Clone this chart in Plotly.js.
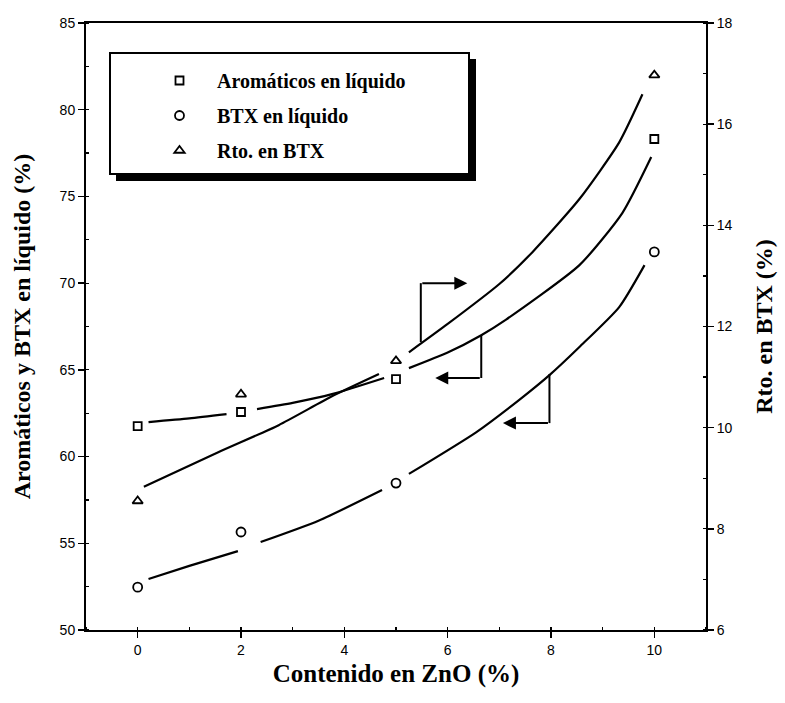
<!DOCTYPE html>
<html>
<head>
<meta charset="utf-8">
<script src="https://cdn.plot.ly/plotly-3.0.1.min.js"></script>
<style>html,body{margin:0;padding:0;background:#fff;}#chart{width:785px;height:703px;}</style>
</head>
<body>
<div id="chart"></div>
<script>
// ---- data ----
const zno = [0, 2, 5, 10];
const aromaticos = [61.76, 62.57, 64.47, 78.31];   // left axis
const btx = [52.47, 55.65, 58.47, 71.8];           // left axis
const rto = [8.55, 10.66, 11.32, 16.97];           // right axis

// fitted curves (broken around markers)
const fitAroX = [0.21, 1.0, 1.72, null, 2.31, 3.0, 3.76, 4.77, null, 5.25, 6.0, 6.65, 7.13, 8.55, 9.38, 9.94];
const fitAroY = [61.99, 62.2, 62.45, null, 62.74, 63.1, 63.6, 64.53, null, 65.1, 66.0, 67.0, 67.9, 71.04, 74.04, 77.27];
const fitBtxX = [0.21, 1.0, 1.94, null, 2.38, 3.5, 4.73, null, 5.25, 6.55, 7.38, 7.97, 8.55, 9.32, 9.81];
const fitBtxY = [52.94, 53.7, 54.55, null, 55.07, 56.3, 58.07, null, 59.0, 61.4, 63.26, 64.7, 66.32, 68.62, 71.04];
const fitRtoX = [0.12, 1.57, 2.73, 3.76, 4.67, null, 5.25, 6.0, 7.0, 7.64, 8.55, 9.32, 9.77];
const fitRtoY = [8.83, 9.52, 10.05, 10.62, 11.06, null, 11.49, 12.05, 12.84, 13.47, 14.52, 15.64, 16.59];

const legendNames = ['Aromáticos en líquido', 'BTX en líquido', 'Rto. en BTX'];
const xTitle = 'Contenido en ZnO (%)';
const yTitle = 'Aromáticos y BTX en líquido (%)';
const y2Title = 'Rto. en BTX (%)';

// ---- layout helpers ----
const W = 785, H = 703;
const M = {l: 86, r: 79, t: 23, b: 73};
const PW = W - M.l - M.r, PH = H - M.t - M.b;
const px = X => (X - M.l) / PW;
const py = Y => 1 - (Y - M.t) / PH;

const serif = 'Liberation Serif, Times New Roman, serif';
const sans = 'Liberation Sans, Arial, sans-serif';
const lineStyle = {color: '#000', width: 2.2, shape: 'spline', smoothing: 0.6};
const mk = (sym, size) => ({symbol: sym, size: size, color: '#000', line: {color: '#000', width: 1.8}});

const traces = [
  {x: fitAroX, y: fitAroY, mode: 'lines', line: lineStyle, connectgaps: false, showlegend: false, hoverinfo: 'skip'},
  {x: fitBtxX, y: fitBtxY, mode: 'lines', line: lineStyle, connectgaps: false, showlegend: false, hoverinfo: 'skip'},
  {x: fitRtoX, y: fitRtoY, mode: 'lines', line: lineStyle, connectgaps: false, showlegend: false, hoverinfo: 'skip', yaxis: 'y2'},
  {x: zno, y: aromaticos, mode: 'markers', name: legendNames[0], marker: mk('square-open', 8), legendgroup: 'a'},
  {x: zno, y: btx, mode: 'markers', name: legendNames[1], marker: mk('circle-open', 9), legendgroup: 'b'},
  {x: zno, y: rto, mode: 'markers', name: legendNames[2], marker: mk('triangle-up-open', 9), legendgroup: 'c', yaxis: 'y2'}
];

// bracket arrows: [xVertical, yStart, yCorner, xTip]
const arrowsLeftAxis = [
  [5.48, 66.6, 70.0, 6.38],
  [6.65, 67.0, 64.53, 5.76],
  [7.97, 64.76, 61.93, 7.07]
];
const shapes = [
  // legend shadow and box
  {type: 'rect', xref: 'paper', yref: 'paper', x0: px(116), x1: px(476), y0: py(181), y1: py(59), fillcolor: '#000', line: {width: 0}, layer: 'above'},
  {type: 'rect', xref: 'paper', yref: 'paper', x0: px(110), x1: px(469), y0: py(174), y1: py(53), fillcolor: '#fff', line: {color: '#000', width: 2}, layer: 'above'}
];
const annotations = [];
arrowsLeftAxis.forEach(a => {
  shapes.push({type: 'line', xref: 'x', yref: 'y', x0: a[0], x1: a[0], y0: a[1], y1: a[2], line: {color: '#000', width: 2}});
  annotations.push({x: a[3], y: a[2], ax: a[0], ay: a[2], xref: 'x', yref: 'y', axref: 'x', ayref: 'y', text: '', showarrow: true, arrowhead: 2, arrowsize: 1.3, arrowwidth: 2, arrowcolor: '#000', standoff: 0, startstandoff: 0});
});

const axisCommon = {
  showline: true, linecolor: '#000', linewidth: 2, showgrid: false, zeroline: false,
  ticks: 'outside', ticklen: 6, tickwidth: 1.5, tickcolor: '#000',
  tickfont: {family: sans, size: 14, color: '#000'},
  minor: {ticks: 'inside', ticklen: 3, tickwidth: 1.2, tickcolor: '#000'}
};

const layout = {
  width: W, height: H,
  margin: M,
  paper_bgcolor: '#fff', plot_bgcolor: '#fff',
  showlegend: true,
  legend: {x: px(142), y: py(61), xanchor: 'left', yanchor: 'top', bgcolor: 'rgba(0,0,0,0)', borderwidth: 0,
           font: {family: serif, size: 20, color: '#000', weight: 'bold'}, itemwidth: 65, tracegroupgap: 6},
  xaxis: Object.assign({}, axisCommon, {range: [-1, 11], dtick: 2, tick0: 0, mirror: true,
    minor: {ticks: 'inside', ticklen: 3, tickwidth: 1.2, tickcolor: '#000', dtick: 1},
    title: {text: xTitle, font: {family: serif, size: 25, color: '#000', weight: 'bold'}, standoff: 8}}),
  yaxis: Object.assign({}, axisCommon, {range: [50, 85], dtick: 5, tick0: 50,
    minor: {ticks: 'inside', ticklen: 3, tickwidth: 1.2, tickcolor: '#000', dtick: 2.5},
    title: {text: yTitle, font: {family: serif, size: 24, color: '#000', weight: 'bold'}, standoff: 22}}),
  yaxis2: Object.assign({}, axisCommon, {range: [6, 18], dtick: 2, tick0: 6, overlaying: 'y', side: 'right',
    minor: {ticks: 'inside', ticklen: 3, tickwidth: 1.2, tickcolor: '#000', dtick: 1},
    title: {text: y2Title, font: {family: serif, size: 24, color: '#000', weight: 'bold'}, standoff: 24}}),
  shapes: shapes,
  annotations: annotations
};

Plotly.newPlot('chart', traces, layout, {displayModeBar: false, staticPlot: true});
</script>
</body>
</html>
